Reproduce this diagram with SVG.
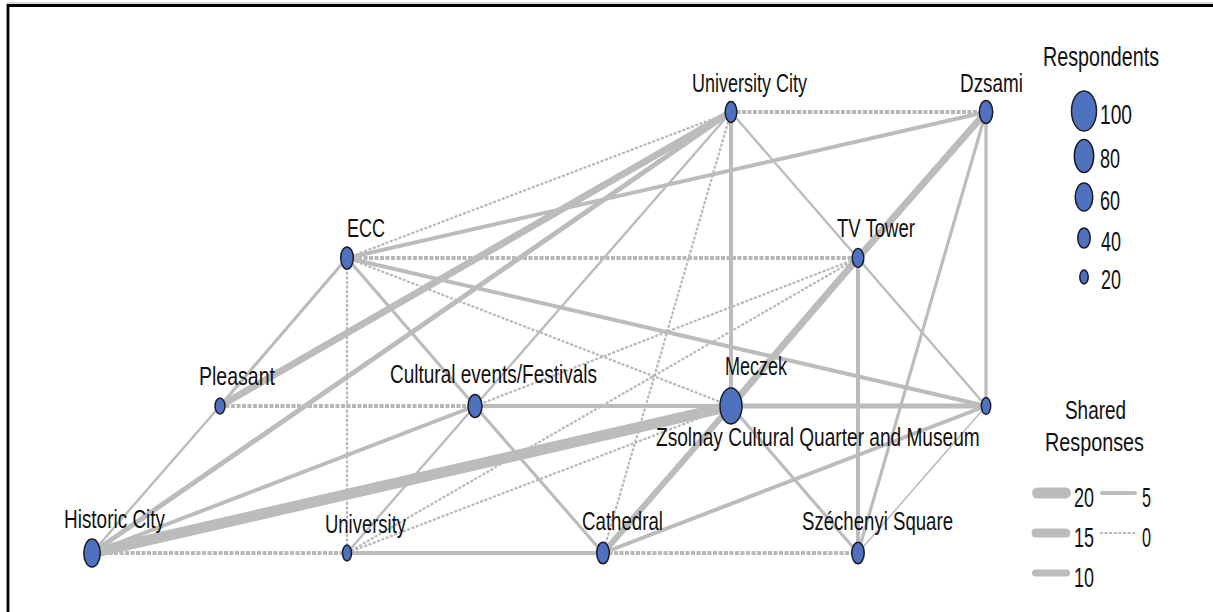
<svg xmlns="http://www.w3.org/2000/svg" width="1213" height="612" viewBox="0 0 1213 612">
  <style>
    .edge { fill: none; stroke: #bcbcbc; stroke-linecap: round; }
    .d0 { stroke: #b8b8b8; stroke-width: 2.2; stroke-dasharray: 3 1.6; stroke-linecap: butt; }
    .dh { stroke: #b8b8b8; stroke-width: 4; stroke-dasharray: 4 1.5; stroke-linecap: butt; }
    .w1 { stroke-width: 1.6; }
    .w2 { stroke-width: 2.4; }
    .w3 { stroke-width: 3.2; }
    .w4 { stroke-width: 4; }
    .w5 { stroke-width: 5; }
    .w6 { stroke-width: 6; }
    .w7 { stroke-width: 7; }
    .w9 { stroke-width: 9; }
    .w11 { stroke-width: 11; }
    .node ellipse { fill: #4f72be; stroke: #1b1b2a; stroke-width: 1.5; }
    text { font-family: "Liberation Sans", Arial, sans-serif; fill: #111; }
    .lbl { font-size: 26px; }
    .leg { font-size: 28px; }
    .legt { font-size: 25px; }
  </style>

  <!-- frame -->
  <line x1="7" y1="3" x2="1213" y2="3" stroke="#b0b0b0" stroke-width="1"/>
  <path d="M8,612 V5.5 H1213" fill="none" stroke="#000" stroke-width="2.8"/>

  <!-- connectors -->
  <g id="connectors">
    <!-- zero-weight links -->
    <line class="edge dh" x1="731" y1="112" x2="986" y2="112"/>
    <line class="edge dh" x1="347" y1="258" x2="858" y2="258"/>
    <line class="edge dh" x1="220" y1="406" x2="475" y2="406"/>
    <line class="edge dh" x1="92" y1="553" x2="347" y2="553"/>
    <line class="edge dh" x1="603" y1="553" x2="858" y2="553"/>
    <line class="edge d0" x1="347" y1="258" x2="347" y2="553"/>
    <line class="edge d0" x1="347" y1="258" x2="731" y2="112"/>
    <line class="edge d0" x1="347" y1="258" x2="731" y2="406"/>
    <line class="edge d0" x1="475" y1="406" x2="858" y2="258"/>
    <line class="edge d0" x1="347" y1="553" x2="731" y2="406"/>
    <line class="edge d0" x1="347" y1="553" x2="858" y2="258"/>
    <line class="edge d0" x1="603" y1="553" x2="731" y2="112"/>
    <!-- weighted links -->
    <line class="edge w4" x1="347" y1="553" x2="603" y2="553"/>
    <line class="edge w4" x1="475" y1="406" x2="731" y2="406"/>
    <line class="edge w5" x1="731" y1="406" x2="986" y2="406"/>
    <line class="edge w5" x1="92" y1="553" x2="731" y2="112"/>
    <line class="edge w4" x1="92" y1="553" x2="475" y2="406"/>
    <line class="edge w2" x1="92" y1="553" x2="220" y2="406"/>
    <line class="edge w3" x1="220" y1="406" x2="347" y2="258"/>
    <line class="edge w7" x1="220" y1="406" x2="731" y2="112"/>
    <line class="edge w3" x1="347" y1="258" x2="475" y2="406"/>
    <line class="edge w3" x1="475" y1="406" x2="603" y2="553"/>
    <line class="edge w2" x1="347" y1="553" x2="475" y2="406"/>
    <line class="edge w2" x1="475" y1="406" x2="731" y2="112"/>
    <line class="edge w4" x1="347" y1="258" x2="986" y2="112"/>
    <line class="edge w4" x1="347" y1="258" x2="986" y2="406"/>
    <line class="edge w4" x1="731" y1="112" x2="731" y2="406"/>
    <line class="edge w2" x1="731" y1="112" x2="986" y2="406"/>
    <line class="edge w7" x1="986" y1="112" x2="858" y2="258"/>
    <line class="edge w7" x1="858" y1="258" x2="731" y2="406"/>
    <line class="edge w6" x1="731" y1="406" x2="603" y2="553"/>
    <line class="edge w3" x1="986" y1="112" x2="986" y2="406"/>
    <line class="edge w3" x1="986" y1="112" x2="858" y2="553"/>
    <line class="edge w4" x1="858" y1="258" x2="858" y2="553"/>
    <line class="edge w3" x1="731" y1="406" x2="858" y2="553"/>
    <line class="edge w4" x1="603" y1="553" x2="986" y2="406"/>
    <line class="edge w1" x1="858" y1="553" x2="986" y2="406"/>
    <line class="edge w11" x1="92" y1="553" x2="731" y2="406"/>
  </g>

  <!-- nodes -->
  <g id="node-university-city" class="node">
    <ellipse cx="731" cy="112" rx="5.8" ry="10.5"/>
    <text class="lbl" x="692" y="92" textLength="115" lengthAdjust="spacingAndGlyphs">University City</text>
  </g>
  <g id="node-dzsami" class="node">
    <ellipse cx="986" cy="112" rx="6.7" ry="11.5"/>
    <text class="lbl" x="960" y="92" textLength="63" lengthAdjust="spacingAndGlyphs">Dzsami</text>
  </g>
  <g id="node-ecc" class="node">
    <ellipse cx="347" cy="258" rx="6.3" ry="11"/>
    <text class="lbl" x="347" y="237" textLength="38" lengthAdjust="spacingAndGlyphs">ECC</text>
  </g>
  <g id="node-tv-tower" class="node">
    <ellipse cx="858" cy="258" rx="5.8" ry="9.5"/>
    <text class="lbl" x="837" y="237" textLength="78" lengthAdjust="spacingAndGlyphs">TV Tower</text>
  </g>
  <g id="node-pleasant" class="node">
    <ellipse cx="220" cy="406" rx="5" ry="8"/>
    <text class="lbl" x="199" y="385" textLength="76" lengthAdjust="spacingAndGlyphs">Pleasant</text>
  </g>
  <g id="node-cultural-events" class="node">
    <ellipse cx="475" cy="406" rx="7" ry="11.5"/>
    <text class="lbl" x="390" y="383" textLength="207" lengthAdjust="spacingAndGlyphs">Cultural events/Festivals</text>
  </g>
  <g id="node-meczek" class="node">
    <ellipse cx="731" cy="406" rx="11" ry="18"/>
    <text class="lbl" x="725" y="375" textLength="62" lengthAdjust="spacingAndGlyphs">Meczek</text>
  </g>
  <g id="node-zsolnay" class="node">
    <ellipse cx="986" cy="406" rx="4.7" ry="8.5"/>
    <!-- long label: condensed horizontally so it ends before the legend -->
    <text class="lbl" transform="translate(656,446) scale(0.735,1)">Zsolnay Cultural Quarter and Museum</text>
  </g>
  <g id="node-historic-city" class="node">
    <ellipse cx="92" cy="553" rx="8.2" ry="14"/>
    <text class="lbl" x="64" y="528" textLength="101" lengthAdjust="spacingAndGlyphs">Historic City</text>
  </g>
  <g id="node-university" class="node">
    <ellipse cx="347" cy="553" rx="4.5" ry="8"/>
    <text class="lbl" x="325" y="533" textLength="81" lengthAdjust="spacingAndGlyphs">University</text>
  </g>
  <g id="node-cathedral" class="node">
    <ellipse cx="603" cy="553" rx="6.3" ry="10.8"/>
    <text class="lbl" x="582" y="530" textLength="81" lengthAdjust="spacingAndGlyphs">Cathedral</text>
  </g>
  <g id="node-szechenyi" class="node">
    <ellipse cx="858" cy="553" rx="6.2" ry="10.8"/>
    <text class="lbl" x="802" y="530" textLength="151" lengthAdjust="spacingAndGlyphs">Széchenyi Square</text>
  </g>

  <!-- legend: node size -->
  <g id="legend-respondents">
    <text class="leg" x="1043" y="66" textLength="116" lengthAdjust="spacingAndGlyphs">Respondents</text>
    <g class="node">
      <ellipse cx="1084" cy="111" rx="12.5" ry="20"/>
      <ellipse cx="1084" cy="156" rx="9.7" ry="16.5"/>
      <ellipse cx="1084" cy="197" rx="8.8" ry="14"/>
      <ellipse cx="1084" cy="238" rx="6.2" ry="10"/>
      <ellipse cx="1084" cy="277" rx="4.2" ry="7"/>
    </g>
    <text class="leg" x="1100" y="124" textLength="32" lengthAdjust="spacingAndGlyphs">100</text>
    <text class="leg" x="1100" y="168" textLength="20" lengthAdjust="spacingAndGlyphs">80</text>
    <text class="leg" x="1100" y="210" textLength="20" lengthAdjust="spacingAndGlyphs">60</text>
    <text class="leg" x="1101" y="251" textLength="20" lengthAdjust="spacingAndGlyphs">40</text>
    <text class="leg" x="1101" y="289" textLength="20" lengthAdjust="spacingAndGlyphs">20</text>
  </g>

  <!-- legend: link weight -->
  <g id="legend-shared">
    <text class="legt"><tspan x="1065" y="419" textLength="61" lengthAdjust="spacingAndGlyphs">Shared</tspan><tspan x="1045" y="451" textLength="99" lengthAdjust="spacingAndGlyphs">Responses</tspan></text>
    <line class="edge w11" x1="1037.5" y1="493" x2="1065.5" y2="493"/>
    <line class="edge w9" x1="1036" y1="533" x2="1066" y2="533"/>
    <line class="edge w7" x1="1035.5" y1="573" x2="1066.5" y2="573"/>
    <line class="edge w4" x1="1102" y1="493" x2="1135" y2="493"/>
    <line class="edge d0" x1="1100" y1="533" x2="1137" y2="533"/>
    <text class="leg" x="1074" y="507" textLength="20" lengthAdjust="spacingAndGlyphs">20</text>
    <text class="leg" x="1074" y="547" textLength="20" lengthAdjust="spacingAndGlyphs">15</text>
    <text class="leg" x="1074" y="587" textLength="20" lengthAdjust="spacingAndGlyphs">10</text>
    <text class="leg" x="1142" y="507" textLength="9" lengthAdjust="spacingAndGlyphs">5</text>
    <text class="leg" x="1142" y="547" textLength="9" lengthAdjust="spacingAndGlyphs">0</text>
  </g>
</svg>
